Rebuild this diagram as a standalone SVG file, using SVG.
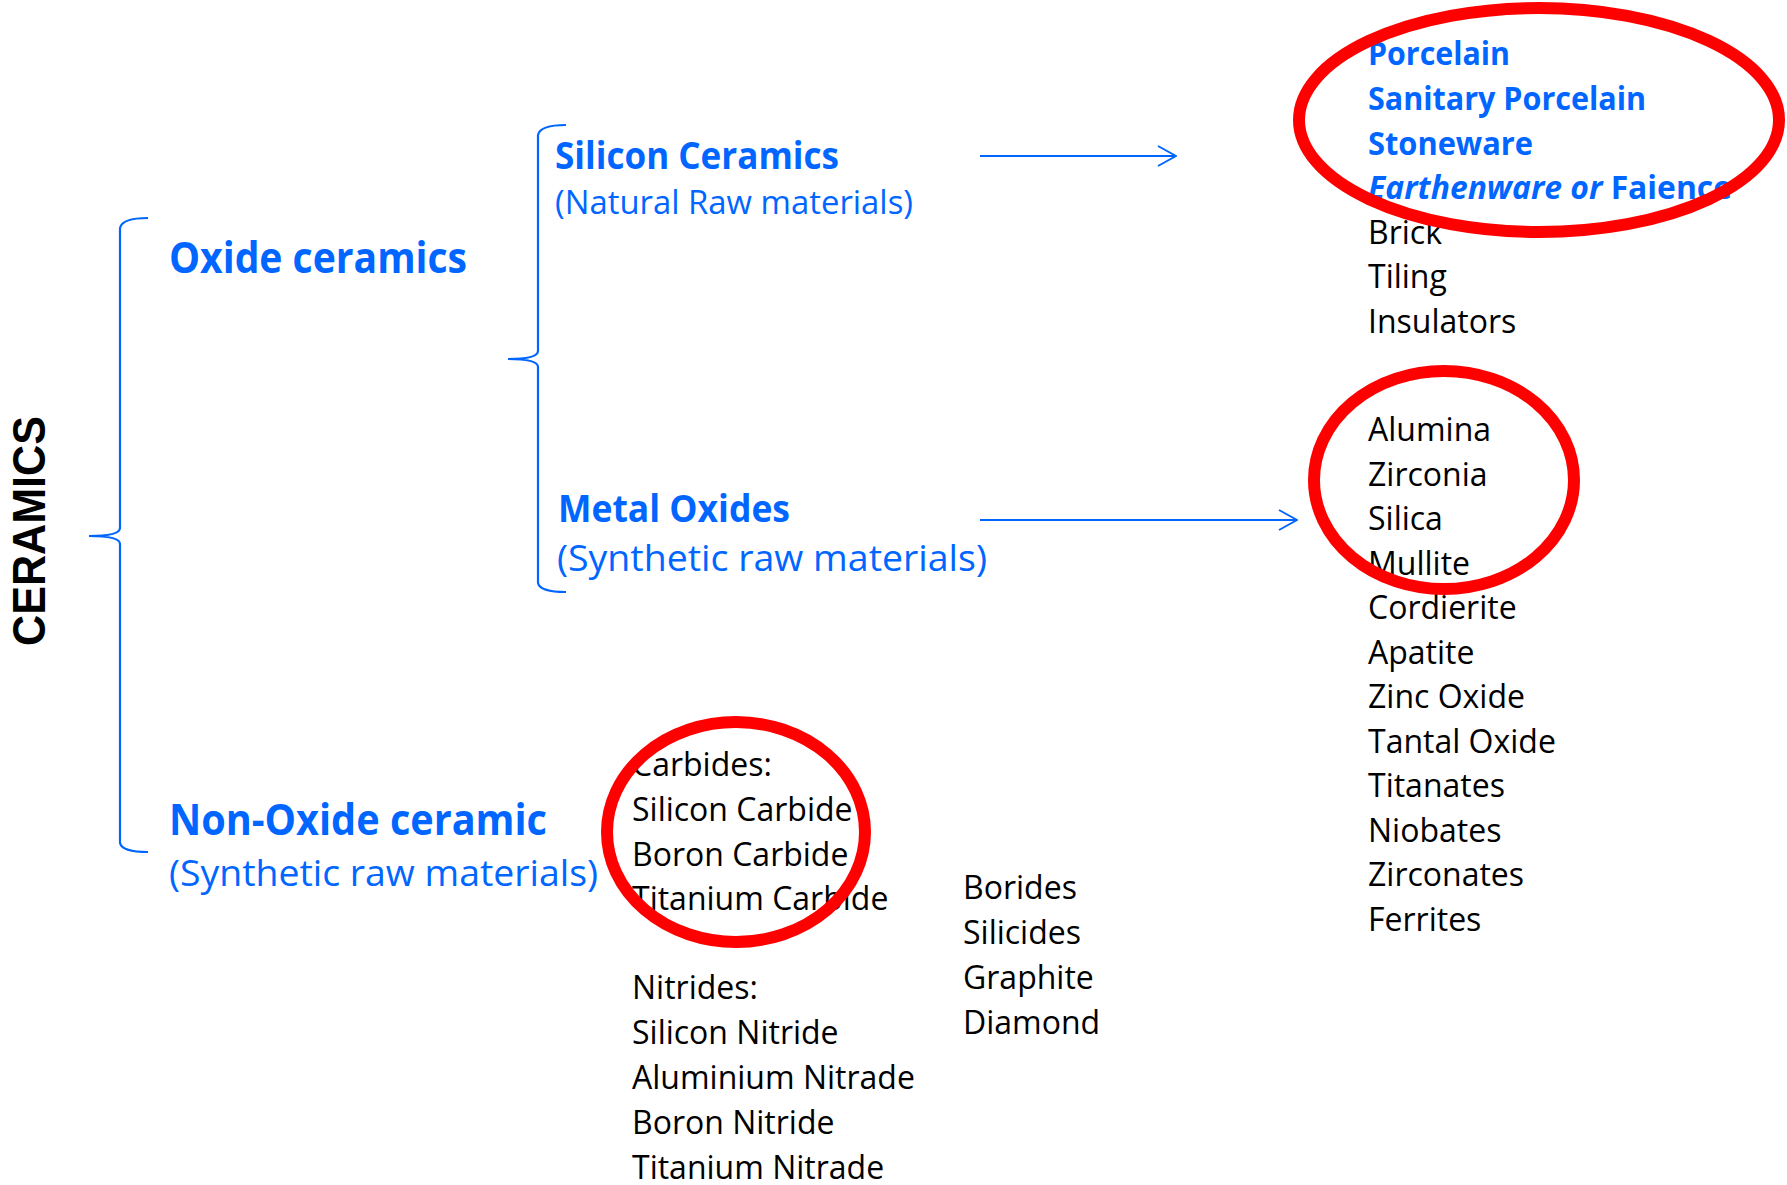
<svg xmlns="http://www.w3.org/2000/svg" width="1787" height="1185" viewBox="0 0 1787 1185">
<style>
text{font-family:"Open Sans","Liberation Sans",sans-serif}
.hb{fill:#0066FF;font-weight:bold}
.hr{fill:#0066FF;font-weight:normal}
.k{fill:#000;font-size:32px}
.br{fill:none;stroke:#0066FF;stroke-width:2.2}
.ar{fill:none;stroke:#0066FF;stroke-width:2}
.ring{fill:none;stroke:#FF0000;stroke-width:12}
</style>
<defs>
<marker id="open" viewBox="0 0 20 22" refX="19" refY="11" markerWidth="20" markerHeight="22" markerUnits="userSpaceOnUse" orient="auto">
<path d="M1,1 L19,11 L1,21" fill="none" stroke="#0066FF" stroke-width="2"/>
</marker>
</defs>
<rect width="1787" height="1185" fill="#fff"/>

<g id="ceramics">
<text transform="translate(45,531) rotate(-90)" text-anchor="middle" font-size="46" font-weight="bold" fill="#000" style="font-family:'Liberation Sans',Arial,sans-serif" textLength="230" lengthAdjust="spacingAndGlyphs">CERAMICS</text>
</g>

<g id="braces">
<path class="br" d="M148,218 Q122,218 120,228 L120,528 Q120,536 89,536 Q120,536 120,544 L120,843 Q122,852 148,852"/>
<path class="br" d="M566,125 Q540,125 538,135 L538,351 Q538,359 508,359 Q538,359 538,367 L538,583 Q540,592 566,592"/>
</g>

<g id="oxide">
<text class="hb" x="169" y="273" font-size="43" textLength="298" lengthAdjust="spacingAndGlyphs">Oxide ceramics</text>
</g>

<g id="silicon">
<text class="hb" x="555" y="169" font-size="37" textLength="284" lengthAdjust="spacingAndGlyphs">Silicon Ceramics</text>
<text class="hr" x="555" y="214" font-size="32" textLength="358" lengthAdjust="spacingAndGlyphs">(Natural Raw materials)</text>
</g>

<g id="metal">
<text class="hb" x="558" y="522" font-size="37" textLength="232" lengthAdjust="spacingAndGlyphs">Metal Oxides</text>
<text class="hr" x="557" y="571" font-size="37" textLength="430" lengthAdjust="spacingAndGlyphs">(Synthetic raw materials)</text>
</g>

<g id="nonoxide">
<text class="hb" x="169" y="835" font-size="43" textLength="378" lengthAdjust="spacingAndGlyphs">Non-Oxide ceramic</text>
<text class="hr" x="169" y="886" font-size="37" textLength="429" lengthAdjust="spacingAndGlyphs">(Synthetic raw materials)</text>
</g>

<g id="connectors">
<line class="ar" x1="980" y1="156" x2="1176" y2="156" marker-end="url(#open)"/>
<line class="ar" x1="980" y1="520" x2="1297" y2="520" marker-end="url(#open)"/>
</g>

<g id="silicate-list">
<text class="hb" x="1368" y="65" font-size="32" textLength="142" lengthAdjust="spacingAndGlyphs">Porcelain</text>
<text class="hb" x="1368" y="110" font-size="32" textLength="278" lengthAdjust="spacingAndGlyphs">Sanitary Porcelain</text>
<text class="hb" x="1368" y="155" font-size="32" textLength="165" lengthAdjust="spacingAndGlyphs">Stoneware</text>
<text class="hb" x="1368" y="199" font-size="32" textLength="364" lengthAdjust="spacingAndGlyphs"><tspan font-style="italic">Earthenware or </tspan>Faience</text>
<text class="k" x="1368" y="244">Brick</text>
<text class="k" x="1368" y="288">Tiling</text>
<text class="k" x="1368" y="333">Insulators</text>
</g>

<g id="oxide-list">
<text class="k" x="1368" y="441">Alumina</text>
<text class="k" x="1368" y="486">Zirconia</text>
<text class="k" x="1368" y="530">Silica</text>
<text class="k" x="1368" y="575">Mullite</text>
<text class="k" x="1368" y="619">Cordierite</text>
<text class="k" x="1368" y="664">Apatite</text>
<text class="k" x="1368" y="708">Zinc Oxide</text>
<text class="k" x="1368" y="753">Tantal Oxide</text>
<text class="k" x="1368" y="797">Titanates</text>
<text class="k" x="1368" y="842">Niobates</text>
<text class="k" x="1368" y="886">Zirconates</text>
<text class="k" x="1368" y="931">Ferrites</text>
</g>

<g id="carbides-list">
<text class="k" x="632" y="776">Carbides:</text>
<text class="k" x="632" y="821">Silicon Carbide</text>
<text class="k" x="632" y="866">Boron Carbide</text>
<text class="k" x="632" y="910">Titanium Carbide</text>
</g>

<g id="nitrides-list">
<text class="k" x="632" y="999">Nitrides:</text>
<text class="k" x="632" y="1044">Silicon Nitride</text>
<text class="k" x="632" y="1089">Aluminium Nitrade</text>
<text class="k" x="632" y="1134">Boron Nitride</text>
<text class="k" x="632" y="1179">Titanium Nitrade</text>
</g>

<g id="other-list">
<text class="k" x="963" y="899">Borides</text>
<text class="k" x="963" y="944">Silicides</text>
<text class="k" x="963" y="989">Graphite</text>
<text class="k" x="963" y="1034">Diamond</text>
</g>

<g id="highlights">
<ellipse class="ring" cx="1539" cy="120" rx="240" ry="112"/>
<ellipse class="ring" cx="1444" cy="480" rx="130" ry="109"/>
<ellipse class="ring" cx="736" cy="832" rx="129" ry="110"/>
</g>
</svg>
